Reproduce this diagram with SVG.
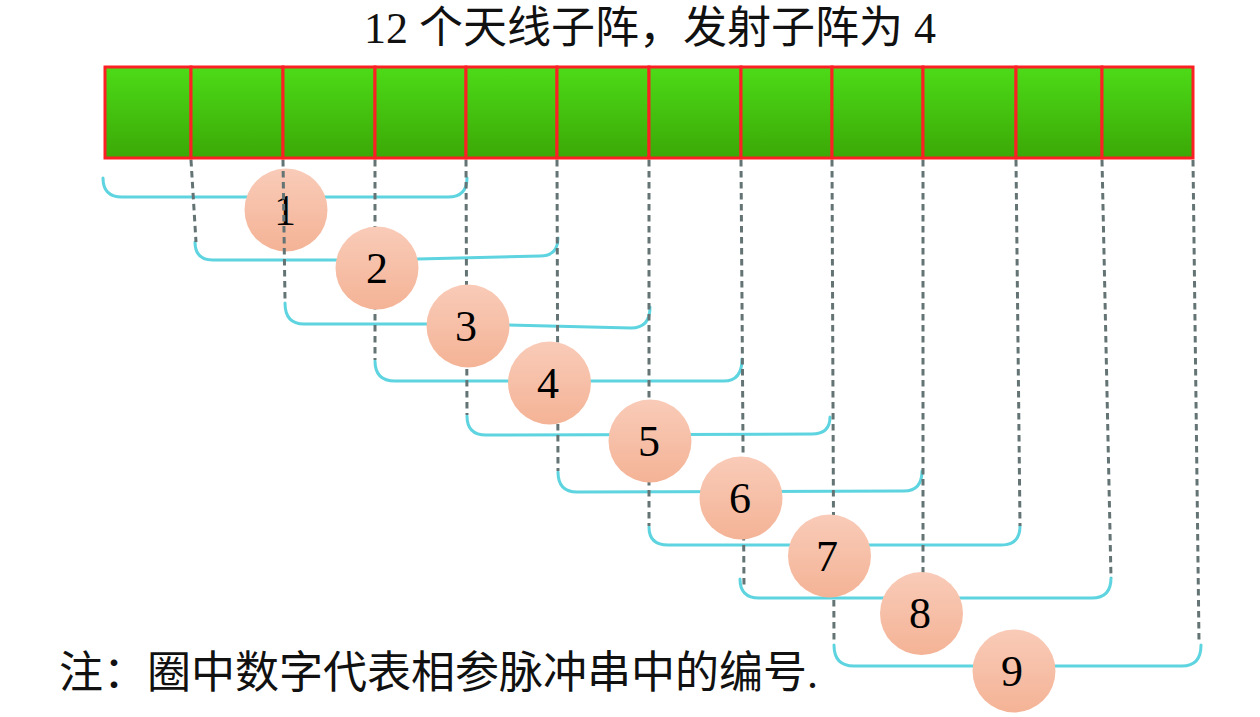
<svg xmlns="http://www.w3.org/2000/svg" width="1260" height="717" viewBox="0 0 1260 717">
<defs>
<linearGradient id="gGreen" x1="0" y1="0" x2="0" y2="1">
<stop offset="0" stop-color="#4ddb18"/>
<stop offset="1" stop-color="#3ba806"/>
</linearGradient>
<linearGradient id="gPeach" x1="0" y1="0" x2="0" y2="1">
<stop offset="0" stop-color="#f9cbb8"/>
<stop offset="1" stop-color="#f4b396"/>
</linearGradient>
</defs>
<style>
.txt{font-family:"Liberation Serif","Noto Sans CJK SC",serif;fill:#111;}
.cell{fill:url(#gGreen);stroke:#fb2024;stroke-width:3;}
.br{fill:none;stroke:#5dd4df;stroke-width:3;stroke-linecap:round;stroke-linejoin:round;}
.dash{fill:none;stroke:#647474;stroke-width:3;stroke-dasharray:6.5 4.5;}
.circ{fill:url(#gPeach);}
.num{font-family:"Liberation Serif",serif;font-size:44px;fill:#000;text-anchor:middle;}
</style>
<rect width="1260" height="717" fill="#fff"/>
<text class="txt" x="650" y="43" font-size="44" text-anchor="middle">12 个天线子阵，发射子阵为 4</text>
<g id="array">
<rect class="cell" x="105" y="67" width="86" height="91"/>
<rect class="cell" x="191" y="67" width="92" height="91"/>
<rect class="cell" x="283" y="67" width="92" height="91"/>
<rect class="cell" x="375" y="67" width="91" height="91"/>
<rect class="cell" x="466" y="67" width="91" height="91"/>
<rect class="cell" x="557" y="67" width="92" height="91"/>
<rect class="cell" x="649" y="67" width="92" height="91"/>
<rect class="cell" x="741" y="67" width="91" height="91"/>
<rect class="cell" x="832" y="67" width="91" height="91"/>
<rect class="cell" x="923" y="67" width="93" height="91"/>
<rect class="cell" x="1016" y="67" width="86" height="91"/>
<rect class="cell" x="1102" y="67" width="91" height="91"/>
</g>
<g id="connectors-brackets">
<path class="br" d="M103,178 Q103,197 122,197 L448,197 Q467,197 467,178"/>
<path class="br" d="M195,242 Q195,260 213,260 L377,260 L540,256 Q558,256 558,238"/>
<path class="br" d="M285,303 Q285,324 304,324 L468,324 L631,328 Q650,328 650,307"/>
<path class="br" d="M375,361 Q375,381 395,381 L724,381 Q742,381 742,359"/>
<path class="br" d="M467,416 Q467,435 486,435 L812,434 Q830,434 830,417"/>
<path class="br" d="M558,472 Q558,492 577,492 L904,491 Q922,491 922,471"/>
<path class="br" d="M649,527 Q649,545 668,545 L1001,545 Q1020,545 1020,526"/>
<path class="br" d="M740,579 Q740,598 759,598 L1092,598 Q1111,598 1111,578"/>
<path class="br" d="M834,645 Q834,666 854,666 L1182,666 Q1201,666 1201,645"/>
</g>
<g id="node-1">
<circle class="circ" cx="286" cy="210" r="41.5"/>
<text class="num" x="285" y="225">1</text>
</g>
<g id="connectors-guides">
<line class="dash" x1="191" y1="160" x2="196" y2="242"/>
<line class="dash" x1="283" y1="160" x2="285" y2="300"/>
<line class="dash" x1="375" y1="160" x2="375" y2="360"/>
<line class="dash" x1="466" y1="160" x2="467" y2="415"/>
<line class="dash" x1="557" y1="160" x2="558" y2="471"/>
<line class="dash" x1="649" y1="160" x2="649" y2="526"/>
<line class="dash" x1="741" y1="160" x2="744" y2="587"/>
<line class="dash" x1="832" y1="160" x2="834" y2="642"/>
<line class="dash" x1="923" y1="160" x2="923" y2="598"/>
<line class="dash" x1="1016" y1="160" x2="1020" y2="526"/>
<line class="dash" x1="1102" y1="160" x2="1111" y2="578"/>
<line class="dash" x1="1193" y1="160" x2="1199" y2="642"/>
</g>
<g id="node-2"><circle class="circ" cx="377" cy="268" r="41.5"/><text class="num" x="377" y="283">2</text></g>
<g id="node-3"><circle class="circ" cx="468" cy="326" r="41.5"/><text class="num" x="466" y="341">3</text></g>
<g id="node-4"><circle class="circ" cx="549.5" cy="383" r="41.5"/><text class="num" x="548" y="398">4</text></g>
<g id="node-5"><circle class="circ" cx="650" cy="441" r="41.5"/><text class="num" x="649" y="456">5</text></g>
<g id="node-6"><circle class="circ" cx="741" cy="498" r="41.5"/><text class="num" x="740" y="513">6</text></g>
<g id="node-7"><circle class="circ" cx="829.5" cy="556" r="41.5"/><text class="num" x="827" y="571">7</text></g>
<g id="node-8"><circle class="circ" cx="921.5" cy="613.5" r="41.5"/><text class="num" x="920" y="628">8</text></g>
<g id="node-9"><circle class="circ" cx="1014" cy="671" r="41.5"/><text class="num" x="1012" y="686">9</text></g>
<text class="txt" x="59" y="688" font-size="44">注：圈中数字代表相参脉冲串中的编号.</text>
</svg>
